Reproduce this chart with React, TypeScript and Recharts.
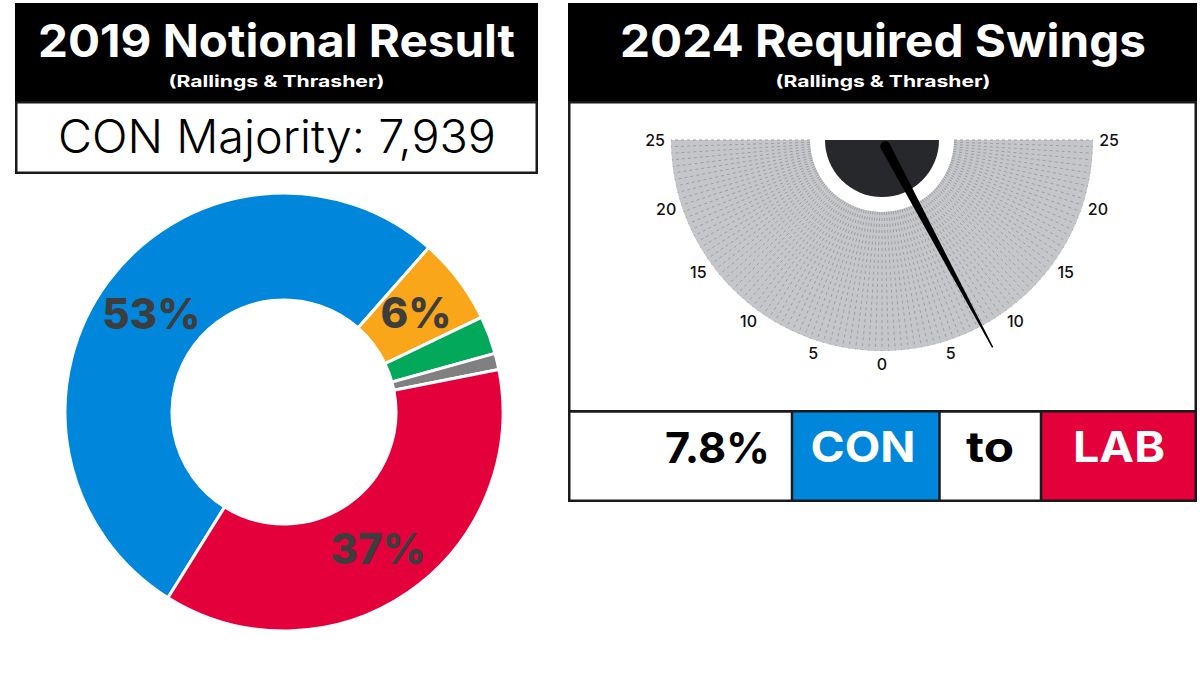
import { PieChart, Pie, Cell, RadialBarChart, RadialBar, PolarAngleAxis, PolarGrid } from 'recharts';

// 2019 notional result (vote share %), listed clockwise from the CON/LAB boundary
const parties = ['CON', 'LD', 'GRN', 'OTH', 'LAB'];
const shares = [52.6, 6.4, 2.8, 1.2, 37.0];
const partyColors = ['#0087DC', '#FAA61A', '#02A95B', '#808080', '#E4003B'];

const majorityParty = 'CON';
const majority = 7939;

// 2024 required swing
const swing = 7.8;
const swingFrom = 'CON';
const swingTo = 'LAB';
const swingMax = 25;
const labelTicks = [-25, -20, -15, -10, -5, 0, 5, 10, 15, 20, 25];

const FONT = "Inter, 'Noto Sans', sans-serif";
const NO_MARGIN = { top: 0, right: 0, bottom: 0, left: 0 };

const donutData = parties.map((p, i) => ({ name: p, value: shares[i] }));
const gridTicks: number[] = [];
for (let t = -swingMax; t <= swingMax; t += 0.5) gridTicks.push(t);
const needleData = [{ name: 'swing', value: swing }];
const rangeData = [{ name: 'range', value: 1 }];

const GAUGE_W = 623;
const GAUGE_H = 305;
const GAUGE_CX = 311;
const GAUGE_CY = 36;

const DonutLabel = (props: any) => {
  const { cx, cy, midAngle, innerRadius, outerRadius, value } = props;
  if (value < 5) return null;
  const r = (innerRadius + outerRadius) / 2;
  const a = (-midAngle * Math.PI) / 180;
  return (
    <text
      x={cx + r * Math.cos(a)}
      y={cy + r * Math.sin(a)}
      textAnchor="middle"
      dominantBaseline="central"
      fontFamily={FONT}
      fontWeight={800}
      fontSize={42}
      fill="#3d3d3d"
    >
      {Math.round(value)}%
    </text>
  );
};

const GaugeTick = (props: any) => {
  const { x, y, payload } = props;
  const v = payload.value;
  if (!labelTicks.includes(v)) return <g />;
  const dx = x - GAUGE_CX;
  const dy = y - GAUGE_CY;
  const len = Math.hypot(dx, dy) || 1;
  const text = String(Math.abs(v));
  const w = text.length * 9;
  const h = 12;
  return (
    <text
      x={x + ((dx / len) * w) / 2}
      y={y + ((dy / len) * h) / 2}
      textAnchor="middle"
      dominantBaseline="central"
      fontFamily={FONT}
      fontSize={16}
      fontWeight={500}
      fill="#111"
    >
      {text}
    </text>
  );
};

const Needle = (props: any) => {
  const { cx, cy, endAngle } = props;
  const a = (-endAngle * Math.PI) / 180;
  const ux = Math.cos(a);
  const uy = Math.sin(a);
  const px = -uy;
  const py = ux;
  const bx = cx + ux * 7;
  const by = cy + uy * 7;
  const tx = cx + ux * 235;
  const ty = cy + uy * 235;
  const pts = [
    [bx + px * 5, by + py * 5],
    [tx + px * 0.7, ty + py * 0.7],
    [tx - px * 0.7, ty - py * 0.7],
    [bx - px * 5, by - py * 5],
  ]
    .map((p) => p.join(','))
    .join(' ');
  return (
    <g>
      <polygon points={pts} fill="#000" />
      <circle cx={bx} cy={by} r={5} fill="#000" />
    </g>
  );
};

export default function App() {
  return (
    <div style={{ position: 'absolute', left: 0, top: 0, width: 1200, height: 695, background: '#fff' }}>
      <svg width={1200} height={695} style={{ position: 'absolute', left: 0, top: 0 }} fontFamily={FONT}>
        {/* left panel */}
        <rect x={15} y={3} width={523} height={99} fill="#000" />
        <text x={276.5} y={57} textAnchor="middle" fontSize={45} fontWeight={700} fill="#fff" textLength={477} lengthAdjust="spacingAndGlyphs">
          2019 Notional Result
        </text>
        <text x={276.5} y={87} textAnchor="middle" fontSize={16} fontWeight={700} fill="#fff" textLength={216} lengthAdjust="spacingAndGlyphs">
          (Rallings &amp; Thrasher)
        </text>
        <rect x={16.25} y={102.25} width={520.5} height={70.5} fill="#fff" stroke="#1a1a1a" strokeWidth={2.5} />
        <text x={277} y={153} textAnchor="middle" fontSize={46} fontWeight={300} fill="#000" textLength={438} lengthAdjust="spacingAndGlyphs">
          {`${majorityParty} Majority: ${majority.toLocaleString('en-GB')}`}
        </text>

        {/* right panel */}
        <rect x={568} y={3} width={629} height={99} fill="#000" />
        <text x={883} y={57} textAnchor="middle" fontSize={45} fontWeight={700} fill="#fff" textLength={526} lengthAdjust="spacingAndGlyphs">
          2024 Required Swings
        </text>
        <text x={883} y={87} textAnchor="middle" fontSize={16} fontWeight={700} fill="#fff" textLength={215} lengthAdjust="spacingAndGlyphs">
          (Rallings &amp; Thrasher)
        </text>
        <rect x={569.25} y={102.25} width={626.5} height={309} fill="#fff" stroke="#1a1a1a" strokeWidth={2.5} />

        <rect x={792} y={411.25} width={147} height={89.5} fill="#0087DC" />
        <rect x={1041} y={411.25} width={155} height={89.5} fill="#E4003B" />
        <rect x={569.25} y={411.25} width={626.5} height={89.5} fill="none" stroke="#1a1a1a" strokeWidth={2.5} />
        <line x1={792} y1={411} x2={792} y2={501} stroke="#1a1a1a" strokeWidth={2.5} />
        <line x1={939.5} y1={411} x2={939.5} y2={501} stroke="#1a1a1a" strokeWidth={2.5} />
        <line x1={1041} y1={411} x2={1041} y2={501} stroke="#1a1a1a" strokeWidth={2.5} />
        <text x={770} y={462.5} textAnchor="end" fontSize={43} fontWeight={700} fill="#000" textLength={105} lengthAdjust="spacingAndGlyphs">
          {`${swing}%`}
        </text>
        <text x={863} y={462} textAnchor="middle" fontSize={42} fontWeight={700} fill="#fff" textLength={105} lengthAdjust="spacingAndGlyphs">
          {swingFrom}
        </text>
        <text x={990} y={462} textAnchor="middle" fontSize={42} fontWeight={700} fill="#000" textLength={48} lengthAdjust="spacingAndGlyphs">
          to
        </text>
        <text x={1119} y={462} textAnchor="middle" fontSize={42} fontWeight={700} fill="#fff" textLength={92} lengthAdjust="spacingAndGlyphs">
          {swingTo}
        </text>
      </svg>

      {/* donut */}
      <div style={{ position: 'absolute', left: 16, top: 176 }}>
        <PieChart width={522} height={480} margin={NO_MARGIN}>
          <Pie
            data={donutData}
            dataKey="value"
            nameKey="name"
            cx={268}
            cy={236}
            innerRadius={112}
            outerRadius={219}
            startAngle={238}
            endAngle={-122}
            stroke="#fff"
            strokeWidth={3}
            label={DonutLabel}
            labelLine={false}
            isAnimationActive={false}
          >
            {donutData.map((d, i) => (
              <Cell key={d.name} fill={partyColors[i]} />
            ))}
          </Pie>
        </PieChart>
      </div>

      {/* gauge background */}
      <div style={{ position: 'absolute', left: 571, top: 104 }}>
        <PieChart width={GAUGE_W} height={GAUGE_H} margin={NO_MARGIN}>
          <Pie data={rangeData} dataKey="value" cx={GAUGE_CX} cy={GAUGE_CY} innerRadius={72} outerRadius={211} startAngle={180} endAngle={360} fill="#C4C6CA" stroke="none" isAnimationActive={false} />
          <Pie data={rangeData} dataKey="value" cx={GAUGE_CX} cy={GAUGE_CY} innerRadius={0} outerRadius={57} startAngle={180} endAngle={360} fill="#27282B" stroke="none" isAnimationActive={false} />
        </PieChart>
      </div>

      {/* gauge scale and needle */}
      <div style={{ position: 'absolute', left: 571, top: 104 }}>
        <RadialBarChart
          width={GAUGE_W}
          height={GAUGE_H}
          margin={NO_MARGIN}
          cx={GAUGE_CX}
          cy={GAUGE_CY}
          innerRadius={72}
          outerRadius={211}
          startAngle={180}
          endAngle={360}
          data={needleData}
        >
          <PolarAngleAxis
            type="number"
            domain={[-swingMax, swingMax]}
            ticks={gridTicks}
            tick={GaugeTick}
            tickLine={false}
            axisLine={false}
            tickSize={7}
          />
          <PolarGrid gridType="circle" polarRadius={[0]} stroke="#9C9EA2" strokeDasharray="3 3" outerRadius={215} />
          <RadialBar dataKey="value" shape={Needle} isAnimationActive={false} />
        </RadialBarChart>
      </div>
    </div>
  );
}
